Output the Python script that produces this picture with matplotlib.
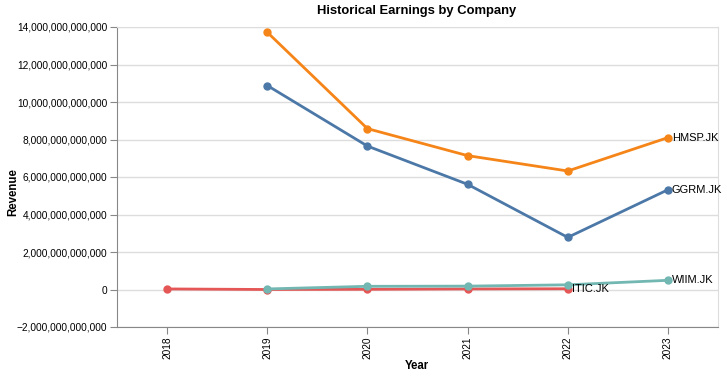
import numpy as np
import matplotlib.pyplot as plt
from matplotlib.ticker import FuncFormatter, MultipleLocator

plt.rcParams['font.family'] = ['Liberation Sans', 'DejaVu Sans']

years = ['2018', '2019', '2020', '2021', '2022', '2023']

ggrm_years = ['2019', '2020', '2021', '2022', '2023']
ggrm = [10.88e12, 7.65e12, 5.61e12, 2.78e12, 5.32e12]

hmsp_years = ['2019', '2020', '2021', '2022', '2023']
hmsp = [13.72e12, 8.58e12, 7.14e12, 6.32e12, 8.10e12]

wiim_years = ['2019', '2020', '2021', '2022', '2023']
wiim = [0.03e12, 0.17e12, 0.18e12, 0.25e12, 0.49e12]

itic_years = ['2018', '2019', '2020', '2021', '2022']
itic = [0.03e12, 0.00e12, 0.01e12, 0.03e12, 0.04e12]

series = [
    ('GGRM.JK', ggrm_years, ggrm, '#4c78a8'),
    ('HMSP.JK', hmsp_years, hmsp, '#f58518'),
    ('ITIC.JK', itic_years, itic, '#e45756'),
    ('WIIM.JK', wiim_years, wiim, '#72b7b2'),
]

W, H = 727, 377
fig = plt.figure(figsize=(W / 100, H / 100), dpi=100)
ax = fig.add_axes([117 / W, 50 / H, 601 / W, 300 / H])

for name, yrs, vals, color in series:
    xs = [years.index(y) for y in yrs]
    ax.plot(xs, vals, color=color, lw=2, marker='o', ms=5, zorder=3)
    ax.text(xs[-1] + 0.04, vals[-1], name, fontsize=8, va='center', ha='left',
            color='black', zorder=4)

ax.set_xlim(-0.5, len(years) - 0.5)
ax.set_xticks(range(len(years)))
ax.set_xticklabels(years, rotation=90, fontsize=7.3)
ax.set_ylim(-2e12, 14e12)
ax.yaxis.set_major_locator(MultipleLocator(2e12))
ax.yaxis.set_major_formatter(FuncFormatter(lambda v, p: f"{v:,.0f}".replace('-', '\u2212')))
ax.tick_params(axis='y', labelsize=7.3, length=5, color='#888888', pad=2)
ax.tick_params(axis='x', length=5, color='#888888', pad=2)
ax.grid(axis='y', color='#dddddd', lw=1)
ax.set_axisbelow(True)

for side in ['left', 'bottom']:
    ax.spines[side].set_color('#888888')
for side in ['top', 'right']:
    ax.spines[side].set_color('#dddddd')

fig.text(417 / W, 1 - 366 / H, 'Year', fontsize=8.3, fontweight='bold',
         ha='center', va='center')
fig.text(13 / W, 1 - 192 / H, 'Revenue', fontsize=8.3, fontweight='bold',
         ha='center', va='center', rotation=90)
fig.text(417 / W, 1 - 11 / H, 'Historical Earnings by Company', fontsize=9.4,
         fontweight='bold', ha='center', va='center')

fig.savefig('out.png', dpi=100)
